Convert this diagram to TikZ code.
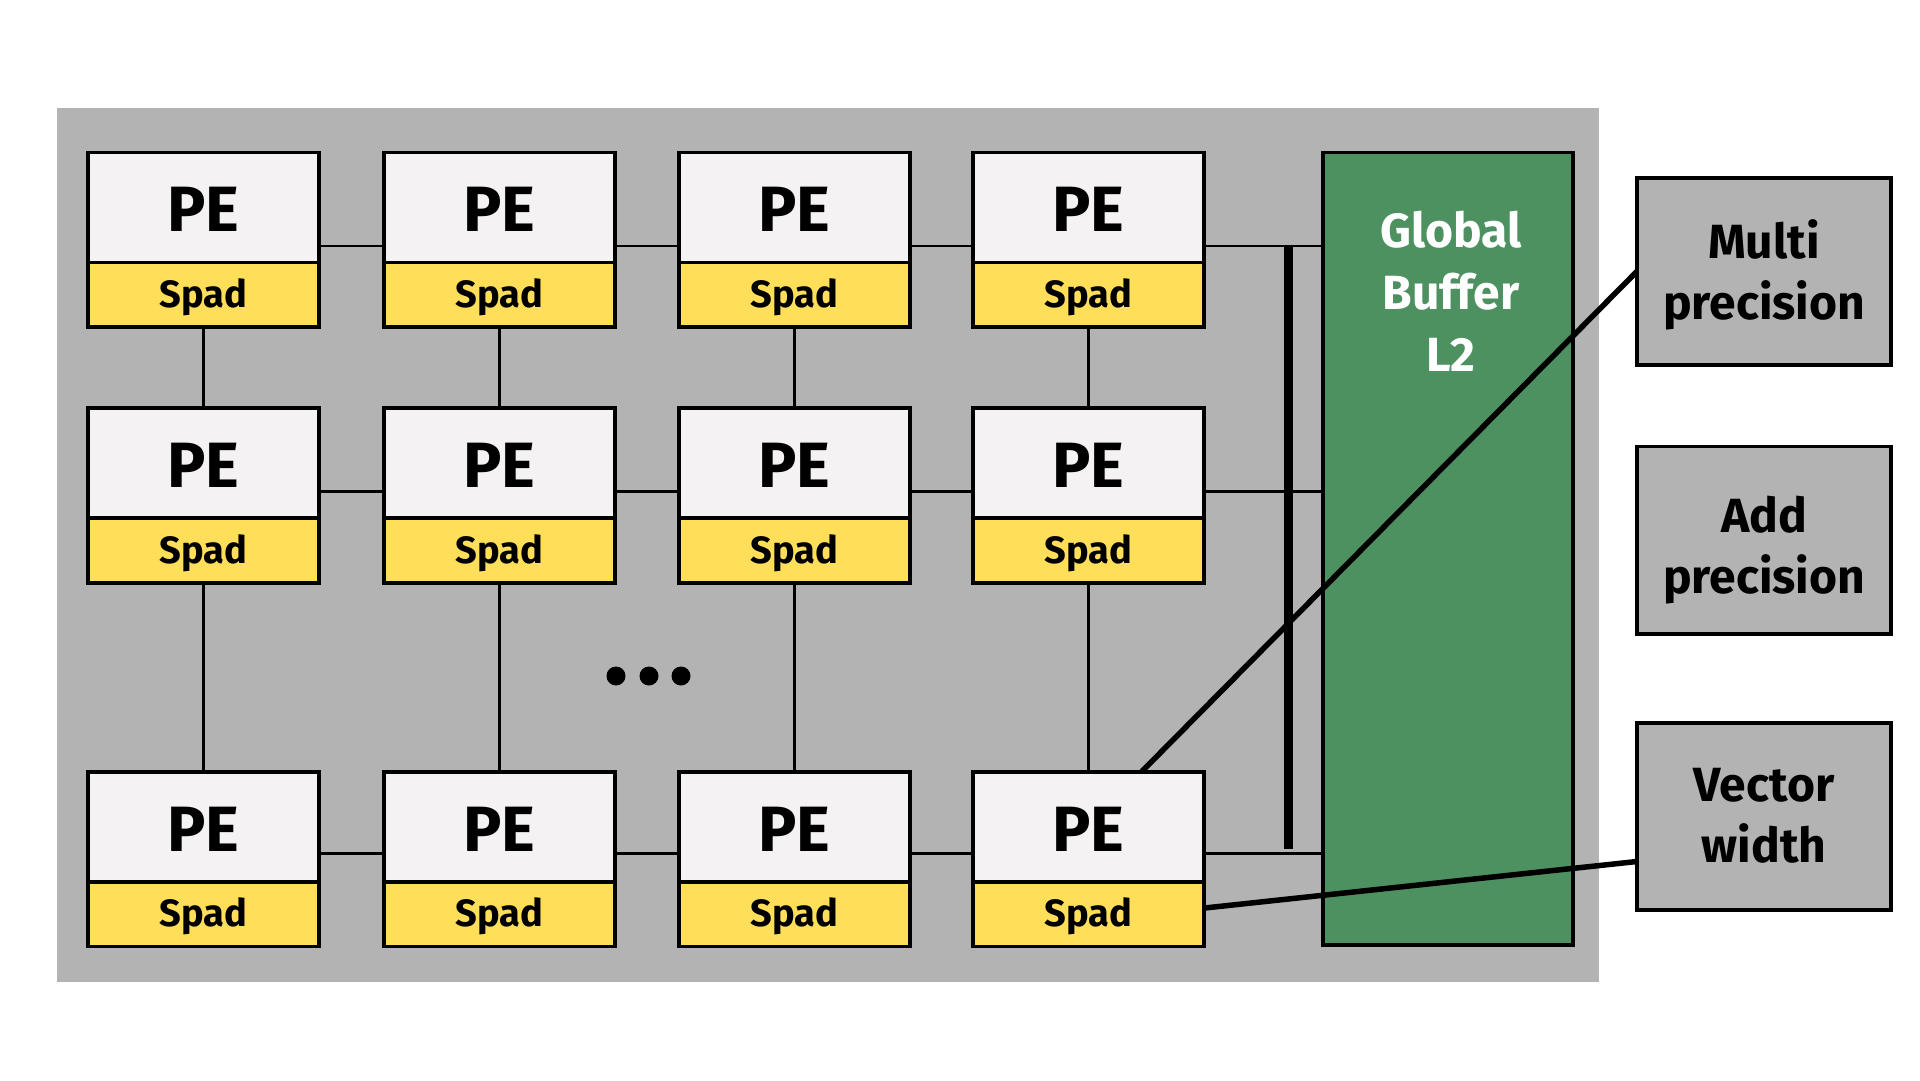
\documentclass[tikz,border=0pt]{standalone}
\usepackage{fontspec}
\setmainfont{Fira Sans}
\definecolor{bggray}{HTML}{B3B3B3}
\definecolor{pefill}{HTML}{F4F2F3}
\definecolor{spadfill}{HTML}{FFDE59}
\definecolor{gbgreen}{HTML}{4E9161}
\begin{document}
\begin{tikzpicture}[x=1pt,y=-1pt,
  pebox/.style={draw=black, line width=3.6pt, outer sep=0pt, fill=pefill, minimum width=231.4pt, minimum height=110pt, inner sep=0pt, anchor=north west, text height=49pt, text depth=0pt, font=\bfseries\fontsize{64}{64}\selectfont},
  spadbox/.style={draw=black, line width=3.6pt, outer sep=0pt, fill=spadfill, minimum width=231.4pt, minimum height=64.5pt, inner sep=0pt, anchor=north, text height=33pt, text depth=7.6pt, font=\bfseries\fontsize{38}{38}\selectfont},
  link/.style={line width=2.8pt, black},
  sidebox/.style={draw=black, line width=3.6pt, outer sep=0pt, fill=bggray, minimum width=254.4pt, minimum height=187.4pt, inner sep=0pt, anchor=north west},
  sidetext/.style={align=center, inner sep=0pt, font=\bfseries\fontsize{48}{61}\selectfont},
  callout/.style={line width=5.5pt, black}
]
\useasboundingbox (0,0) rectangle (1920,1080);
\fill[bggray] (57,108) rectangle (1599,982);

% global buffer
\node[draw=black, line width=3.6pt, outer sep=0pt, fill=gbgreen, minimum width=250.4pt, minimum height=792.4pt, inner sep=0pt, anchor=north west] (gb) at (1322.8,152.4) {};
\node[anchor=north, align=center, text=white, font=\bfseries\fontsize{48}{62}\selectfont] (gbtext) at (1451,208) {Global\\Buffer\\L2};

% PE grid
\foreach \r/\y in {1/152.4,2/408.2,3/771.8}{
  \foreach \c/\x in {1/87.8,2/383.8,3/678.8,4/972.8}{
    \node[pebox] (pe\r\c) at (\x,\y) {PE};
    \node[spadbox] (sp\r\c) at (pe\r\c.south) {Spad};
  }
}

% horizontal links
\foreach \r/\s in {1/-38.5pt,2/-28.5pt,3/-26.5pt}{
  \draw[link] ([yshift=\s]pe\r1.east) -- ([yshift=\s]pe\r2.west);
  \draw[link] ([yshift=\s]pe\r2.east) -- ([yshift=\s]pe\r3.west);
  \draw[link] ([yshift=\s]pe\r3.east) -- ([yshift=\s]pe\r4.west);
  \draw[link] ([yshift=\s]pe\r4.east) -- ([yshift=\s]pe\r4.east -| gb.west);
}
% vertical links
\foreach \c in {1,2,3,4}{
  \draw[link] (sp1\c.south) -- (pe2\c.north);
  \draw[link] (sp2\c.south) -- (pe3\c.north);
}

% thick bus bar
\coordinate (bartop) at (1288,245);
\coordinate (barbot) at (1288,849);
\draw[line width=9pt] (bartop) -- (barbot);

% dots
\foreach \x in {616,649,681}{
  \fill[black] (\x,676) circle (9.5pt);
}

% side boxes
\node[sidebox] (mp) at (1636.8,177.8) {};
\node[sidebox] (ap) at (1636.8,446.3) {};
\node[sidebox] (vw) at (1636.8,722.8) {};
\node[sidetext] (mptext) at ([yshift=-3pt]mp.center) {Multi\\precision};
\node[sidetext] (aptext) at ([yshift=-10pt]ap.center) {Add\\precision};
\node[sidetext] (vwtext) at ([yshift=1pt]vw.center) {Vector\\width};

% callouts
\draw[callout] ([xshift=53pt]pe34.north) -- (mp.west);
\draw[callout] ([yshift=6pt]sp34.east) -- ([yshift=-45pt]vw.west);
\end{tikzpicture}
\end{document}
